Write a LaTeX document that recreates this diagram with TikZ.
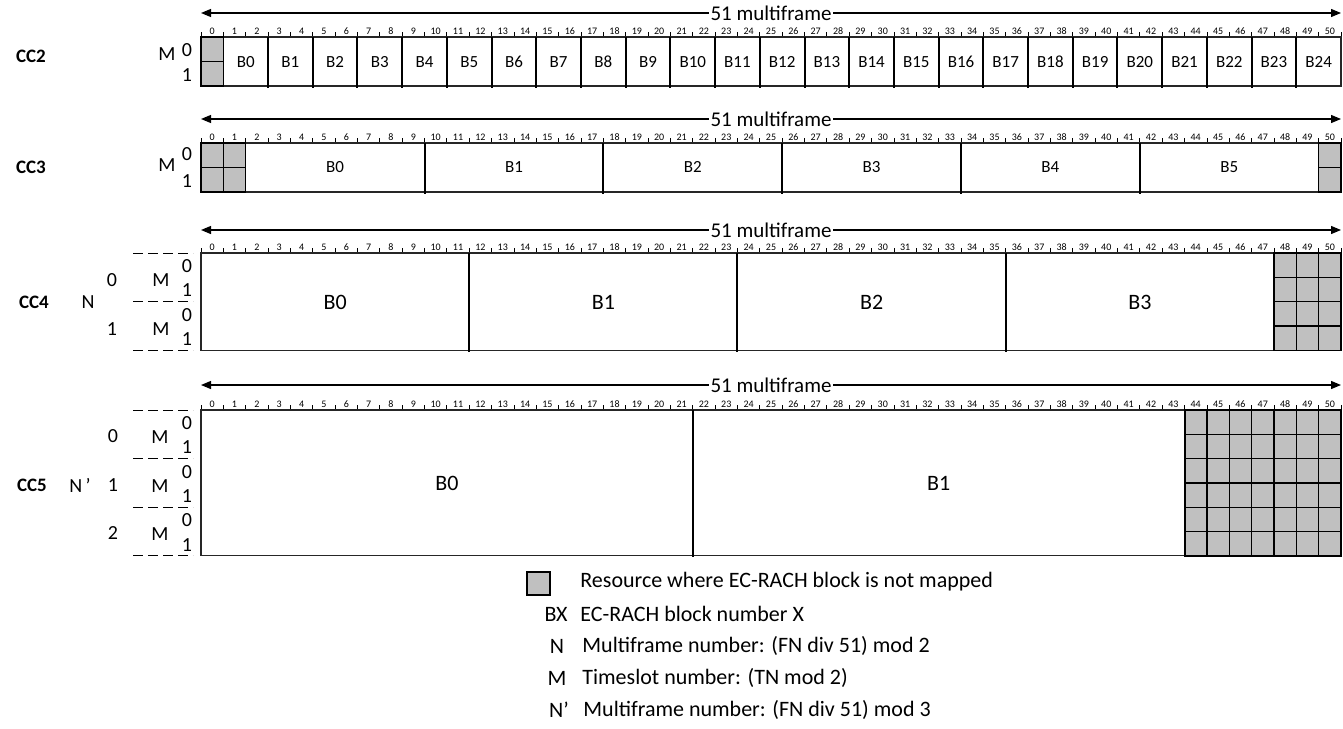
\documentclass[tikz,border=0pt]{standalone}
\usepackage{fontspec}
\setmainfont{Carlito}
\usetikzlibrary{arrows.meta,positioning}
\definecolor{cellgray}{RGB}{192,192,192}
\tikzset{
  frm/.style={draw=black!85, line width=0.65pt},
  cell/.style={draw=black, line width=0.7pt, fill=cellgray},
  sep/.style={draw=black, line width=1pt},
  tick/.style={line width=0.4pt},
  fno/.style={font=\fontsize{5}{5}\selectfont, inner sep=0pt},
  blk/.style={font=\fontsize{8.5}{10}\selectfont},
  blkbig/.style={font=\fontsize{11}{13}\selectfont},
  cclab/.style={font=\bfseries\fontsize{9.5}{11}\selectfont},
  side/.style={font=\fontsize{10}{12}\selectfont, inner sep=0pt},
  span/.style={{Triangle[length=5pt,width=4pt]}-{Triangle[length=5pt,width=4pt]}, line width=0.6pt},
  spanlab/.style={fill=white, inner sep=1pt, font=\fontsize{10.5}{12}\selectfont},
  rowline/.style={dash pattern=on 5pt off 2.5pt, line width=0.5pt},
  legtxt/.style={anchor=west, font=\fontsize{11}{13}\selectfont, inner sep=0pt},
  legkey/.style={font=\fontsize{11}{13}\selectfont, inner sep=0pt},
  legbox/.style={cell, minimum width=11.5pt, minimum height=11.5pt, inner sep=0pt},
}
\newcommand{\fw}{22.353}
\newcommand{\fx}[1]{201+(#1)*\fw}
% frame numbers and ticks above a row
\newcommand{\ruler}[2]{%
  \foreach \i in {0,...,50}
    \node[fno] (#1n\i) at ({\fx{\i+.5}},{#2-6}) {\i};
  \foreach \i in {0,...,51}
    \draw[tick] ({\fx{\i}},{#2-1}) -- ({\fx{\i}},{#2-5});
}
\newcommand{\mfarrow}[2]{%
  \coordinate (#1l) at (201,#2);
  \coordinate (#1r) at (1341,#2);
  \draw[span] (#1l) -- node[spanlab] (#1lab) {51 multiframe} (#1r);
}
% grey cells: first frame, last frame, top, rows, row height
\newcommand{\grayblk}[5]{%
  \foreach \c in {#1,...,#2}
    \foreach \r in {1,...,#4}
      \draw[cell] ({\fx{\c}},{#3+(\r-1)*#5}) rectangle ({\fx{\c+1}},{#3+\r*#5});
}

\begin{document}
\begin{tikzpicture}[x=0.5pt,y=-0.5pt]
\useasboundingbox (0,0) rectangle (1343,728);

% CC2
\node[cclab] (cc2) at (31,56) {CC2};
\node[side] (cc2m) at (167,54) {M};
\node[side] (cc2m0) at (187,50) {0};
\node[side] (cc2m1) at (187,75) {1};
\mfarrow{cc2a}{13}
\ruler{cc2}{37}
\draw[frm] (201,37) rectangle (1341,86);
\grayblk{0}{0}{37}{2}{24.5}
\foreach \k in {1,...,24}
  \draw[sep] ({\fx{1+2*\k}},37) -- ({\fx{1+2*\k}},88);
\foreach \k in {0,...,24}
  \node[blk] (cc2b\k) at ({\fx{2+2*\k}},62) {B\k};

% CC3
\node[cclab] (cc3) at (31,167) {CC3};
\node[side] (cc3m) at (167,165) {M};
\node[side] (cc3m0) at (187,154) {0};
\node[side] (cc3m1) at (187,181) {1};
\mfarrow{cc3a}{119}
\ruler{cc3}{143}
\draw[frm] (201,143) rectangle (1341,192);
\grayblk{0}{1}{143}{2}{24.5}
\grayblk{50}{50}{143}{2}{24.5}
\foreach \k in {1,...,5}
  \draw[sep] ({\fx{2+8*\k}},143) -- ({\fx{2+8*\k}},194);
\foreach \k in {0,...,5}
  \node[blk] (cc3b\k) at ({\fx{6+8*\k}},167) {B\k};

% CC4
\node[cclab] (cc4) at (34,302) {CC4};
\node[side] (cc4n) at (88,302) {N};
\foreach \n in {0,1} {
  \node[side] (cc4n\n) at (112,{280+\n*48.6}) {\n};
  \node[side] (cc4m\n) at (161,{280+\n*48.6}) {M};
  \node[side] (cc4m\n a) at (187,{266+\n*48.6}) {0};
  \node[side] (cc4m\n b) at (187,{290.5+\n*48.6}) {1};
}
\foreach \d in {0,1,2}
  \draw[rowline] (133,{253+\d*48.6}) -- (193,{253+\d*48.6});
\mfarrow{cc4a}{230}
\ruler{cc4}{253}
\draw[frm] (201,253) rectangle (1341,350.2);
\grayblk{48}{50}{253}{4}{24.3}
\foreach \k in {1,...,3}
  \draw[sep] ({\fx{12*\k}},253) -- ({\fx{12*\k}},352);
\foreach \k in {0,...,3}
  \node[blkbig] (cc4b\k) at ({\fx{6+12*\k}},302) {B\k};

% CC5
\node[cclab] (cc5) at (32,485) {CC5};
\node[side] (cc5n) at (80,485) {N\,’};
\foreach \n in {0,1,2} {
  \node[side] (cc5n\n) at (113,{436+\n*48.6}) {\n};
  \node[side] (cc5m\n) at (160,{437+\n*48.6}) {M};
  \node[side] (cc5m\n a) at (187,{423+\n*48.6}) {0};
  \node[side] (cc5m\n b) at (187,{447.5+\n*48.6}) {1};
}
\foreach \d in {0,...,3}
  \draw[rowline] (133,{410+\d*48.6}) -- (193,{410+\d*48.6});
\mfarrow{cc5a}{385}
\ruler{cc5}{410}
\draw[frm] (201,410) rectangle (1341,555.8);
\grayblk{44}{50}{410}{6}{24.3}
\draw[sep] ({\fx{22}},410) -- ({\fx{22}},557);
\draw[sep] ({\fx{44}},410) -- ({\fx{44}},557);
\foreach \k in {0,1}
  \node[blkbig] (cc5b\k) at ({\fx{11+22*\k}},483) {B\k};

% legend
\node[legbox] (lgbox) at (538.5,583.5) {};
\node[legtxt] (lg1) at (580,582) {Resource where EC-RACH block is not mapped};
\node[legkey] (lgbx) at (556,614) {BX};
\node[legtxt] (lg2) at (580,614) {EC-RACH block number X};
\node[legkey] (lgn) at (557,646) {N};
\node[legtxt] (lg3) at (582,646) {Multiframe number: (FN div 51) mod 2};
\node[legkey] (lgm) at (557,678) {M};
\node[legtxt] (lg4) at (582,678) {Timeslot number: (TN mod 2)};
\node[legkey] (lgnp) at (559,710) {N’};
\node[legtxt] (lg5) at (583,710) {Multiframe number: (FN div 51) mod 3};
\end{tikzpicture}
\end{document}
